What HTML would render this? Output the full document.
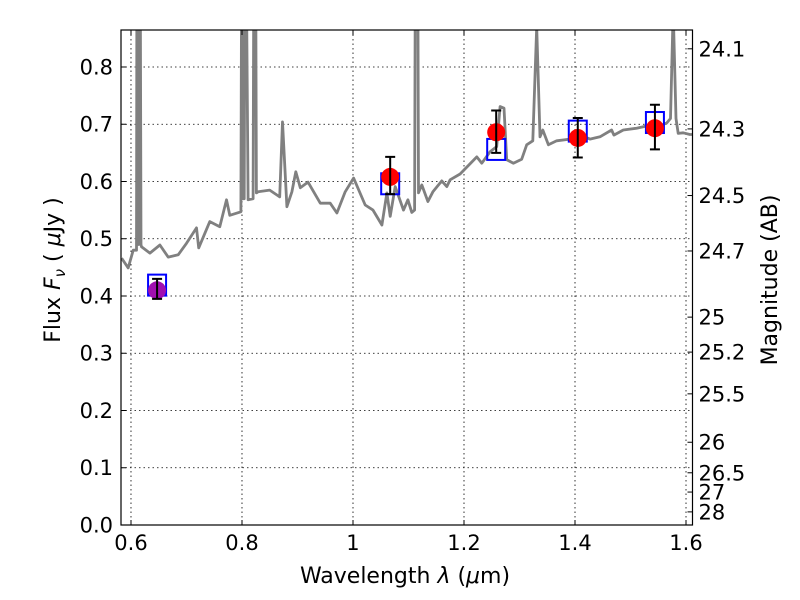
<!DOCTYPE html>
<html><head><meta charset="utf-8"><style>
body{margin:0;background:#fff;}
svg{display:block;font-family:"DejaVu Sans","Liberation Sans",sans-serif;}
</style></head><body>
<svg id="chart" width="800" height="600" viewBox="0 0 800 600" xmlns="http://www.w3.org/2000/svg">
<defs><clipPath id="plotclip"><rect x="121" y="30" width="571.5" height="495"/></clipPath></defs>
<rect x="0" y="0" width="800" height="600" fill="#fff"/>
<g id="grid"></g>
<g id="series" clip-path="url(#plotclip)"></g>
<rect x="121" y="30" width="571.5" height="495" fill="none" stroke="#000" stroke-width="1.2"/>
<g id="axes"></g>
<text x="405" y="583" font-size="22" text-anchor="middle">Wavelength  <tspan font-style="italic">λ</tspan> (<tspan font-style="italic">μ</tspan>m)</text>
<text transform="translate(60,270) rotate(-90)" font-size="22" text-anchor="middle">Flux  <tspan font-style="italic">F</tspan><tspan font-style="italic" font-size="15" dy="5">ν</tspan><tspan dy="-5">  ( </tspan><tspan font-style="italic">μ</tspan>Jy )</text>
<text transform="translate(777,280) rotate(-90)" font-size="22" text-anchor="middle">Magnitude (AB)</text>
</svg>
<script>
const xTicks=[0.6,0.8,1.0,1.2,1.4,1.6];
const xTickLabels=["0.6","0.8","1","1.2","1.4","1.6"];
const yTicks=[0,0.1,0.2,0.3,0.4,0.5,0.6,0.7,0.8];
const yTickLabels=["0.0","0.1","0.2","0.3","0.4","0.5","0.6","0.7","0.8"];
const magTicks=[24.1,24.3,24.5,24.7,25,25.2,25.5,26,26.5,27,28];
const magTickLabels=["24.1","24.3","24.5","24.7","25","25.2","25.5","26","26.5","27","28"];
const specWave=[0.583,0.595,0.604,0.610,0.611,0.613,0.614,0.616,0.618,0.619,0.634,0.652,0.667,0.685,0.700,0.718,0.722,0.742,0.760,0.772,0.778,0.798,0.800,0.802,0.804,0.806,0.811,0.820,0.822,0.824,0.826,0.829,0.850,0.868,0.873,0.881,0.890,0.897,0.905,0.919,0.941,0.959,0.971,0.986,1.001,1.022,1.036,1.052,1.061,1.067,1.076,1.091,1.099,1.106,1.111,1.113,1.116,1.118,1.124,1.135,1.144,1.160,1.169,1.175,1.193,1.223,1.232,1.247,1.259,1.265,1.272,1.277,1.289,1.304,1.313,1.324,1.331,1.337,1.342,1.352,1.367,1.391,1.415,1.427,1.445,1.466,1.470,1.487,1.511,1.529,1.547,1.565,1.572,1.577,1.582,1.586,1.595,1.607,1.615];
const specFlux=[0.466,0.449,0.480,0.48,1.2,0.49,0.49,1.2,0.49,0.486,0.475,0.489,0.468,0.472,0.492,0.519,0.484,0.530,0.521,0.568,0.541,0.547,1.2,0.57,0.57,1.2,0.568,0.57,1.2,1.2,0.58,0.582,0.585,0.573,0.704,0.556,0.582,0.617,0.589,0.599,0.562,0.562,0.545,0.582,0.606,0.559,0.550,0.524,0.580,0.539,0.591,0.550,0.568,0.546,0.55,1.2,1.2,0.58,0.594,0.565,0.582,0.601,0.591,0.603,0.613,0.643,0.632,0.652,0.661,0.731,0.728,0.638,0.632,0.639,0.664,0.671,0.87,0.678,0.690,0.664,0.671,0.674,0.679,0.674,0.678,0.690,0.681,0.690,0.693,0.697,0.695,0.702,0.71,0.90,0.71,0.684,0.685,0.682,0.682];
const obsWave=[0.647,1.067,1.258,1.405,1.544];
const obsFlux=[0.410,0.608,0.686,0.676,0.693];
const obsErrLow=[0.395,0.578,0.650,0.642,0.656];
const obsErrHigh=[0.430,0.643,0.724,0.711,0.734];
const modelFlux=[0.419,0.596,0.656,0.688,0.703];

const X0=121,X1=692.5,Y0=525,Y1=30;
const xmin=0.582,xmax=1.6117,ymin=0,ymax=0.8646;
function sx(v){return X0+(v-xmin)/(xmax-xmin)*(X1-X0);}
function sy(v){return Y0-(v-ymin)/(ymax-ymin)*(Y0-Y1);}
function magToFlux(m){return Math.pow(10,(23.9-m)/2.5);}
const NS="http://www.w3.org/2000/svg";
function mk(t,a,p){const e=document.createElementNS(NS,t);for(const k in a)e.setAttribute(k,a[k]);p.appendChild(e);return e;}
const grid=document.getElementById('grid'),axes=document.getElementById('axes'),series=document.getElementById('series');
xTicks.forEach((v,i)=>{
 const x=sx(v);
 const g=mk('line',{x1:x,x2:x,y1:Y1,y2:Y0,stroke:'#000','stroke-width':0.8,'stroke-dasharray':'1.5,3'},grid);
 
 
 mk('line',{x1:x,x2:x,y1:Y0,y2:Y0-5,stroke:'#000'},axes);
 mk('line',{x1:x,x2:x,y1:Y1,y2:Y1+5,stroke:'#000'},axes);
 const t=mk('text',{x:x,y:Y0+25,'font-size':21,'text-anchor':'middle'},axes);
 t.textContent=xTickLabels[i];
 
 
});
yTicks.forEach((v,i)=>{
 const y=sy(v);
 const g=mk('line',{x1:X0,x2:X1,y1:y,y2:y,stroke:'#000','stroke-width':0.8,'stroke-dasharray':'1.5,3'},grid);
 
 
 mk('line',{x1:X0,x2:X0+5,y1:y,y2:y,stroke:'#000'},axes);
 const t=mk('text',{x:X0-8,y:y+7.5,'font-size':21,'text-anchor':'end'},axes);
 t.textContent=yTickLabels[i];
 
 
});
magTicks.forEach((m,i)=>{
 const y=sy(magToFlux(m));
 mk('line',{x1:X1,x2:X1-5,y1:y,y2:y,stroke:'#000'},axes);
 const t=mk('text',{x:X1+6,y:y+7.5,'font-size':21,'text-anchor':'start'},axes);
 t.textContent=magTickLabels[i];
 
 
});
let d='';
specWave.forEach((w,i)=>{d+=(i?'L':'M')+sx(w).toFixed(1)+','+sy(specFlux[i]).toFixed(1);});
const sp=mk('path',{d:d,fill:'none',stroke:'#808080','stroke-width':2.8,'stroke-linejoin':'round'},series);


obsWave.forEach((w,i)=>{
 const x=sx(w);
 const r=mk('rect',{x:x-9,y:sy(modelFlux[i])-10.5,width:18,height:21,fill:'none',stroke:'#0000ff','stroke-width':2},series);
 
 
 const c=mk('circle',{cx:x,cy:sy(obsFlux[i]),r:9,fill:i===0?'#a010b0':'#ff0000'},series);
 
 
 const yl=sy(obsErrLow[i]),yh=sy(obsErrHigh[i]);
 const e=mk('path',{d:`M${x},${yl}L${x},${yh}M${x-5},${yl}L${x+5},${yl}M${x-5},${yh}L${x+5},${yh}`,stroke:'#000','stroke-width':2,fill:'none'},series);
 
 
});
</script>
</body></html>
